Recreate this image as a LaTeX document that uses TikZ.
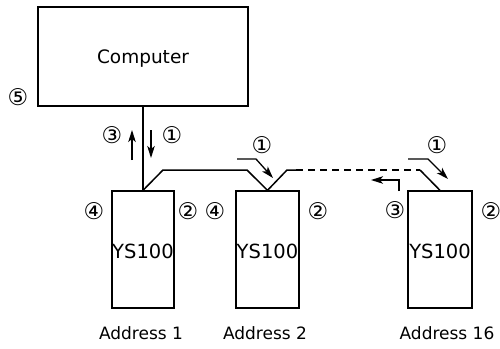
\documentclass[tikz,border=0pt]{standalone}
\usepackage{fontspec}
\setmainfont{DejaVu Sans}
\usetikzlibrary{arrows.meta}
\begin{document}
\begin{tikzpicture}[x=1pt,y=-1pt,
  box/.style={draw,line width=1.3pt,inner sep=0pt},
  bus/.style={line width=1.5pt},
  sig/.style={line width=1.3pt,-{Stealth[length=12pt,width=7.5pt,inset=3pt]}},
  cnum/.style={font=\fontsize{23}{23}\selectfont,inner sep=0pt},
  addr/.style={font=\fontsize{17}{17}\selectfont,anchor=base,inner sep=0pt},
  ystxt/.style={font=\fontsize{19.5}{20}\selectfont,anchor=base,inner sep=0pt}]
\useasboundingbox (0,0) rectangle (500,348);
% computer
\node[box,minimum width=210pt,minimum height=99pt] (comp) at (143,56.5) {};
\node[font=\fontsize{18.5}{19}\selectfont] (comptxt) at (143,59) {Computer};
% units
\node[box,minimum width=62pt,minimum height=117pt] (b1) at (143,249.5) {};
\node[box,minimum width=63pt,minimum height=117pt] (b2) at (267.5,249.5) {};
\node[box,minimum width=64pt,minimum height=117pt] (b16) at (440,249.5) {};
\node[ystxt] (y1) at (143,258) {YS100};
\node[ystxt] (y2) at (267.5,258) {YS100};
\node[ystxt] (y16) at (440,258) {YS100};
\node[addr] (a1) at (141,339) {Address 1};
\node[addr] (a2) at (265,339) {Address 2};
\node[addr] (a16) at (447,339) {Address 16};
% bus
\coordinate (p1) at (163,170);
\coordinate (p2) at (247,170);
\coordinate (p3) at (287,170);
\coordinate (p4) at (296,170);
\coordinate (p5) at (420,170);
\draw[line width=1.3pt] (comp.south) -- (b1.north);
\draw[bus] (b1.north) -- (p1) -- (p2) -- (b2.north) -- (p3) -- (p4);
\draw[bus,dashed,dash pattern=on 7pt off 5pt] (p4) -- (p5);
\draw[bus] (p5) -- (b16.north);
% signal arrows
\coordinate (u0) at (132,160); \coordinate (u1) at (132,130);
\coordinate (d0) at (151,130); \coordinate (d1) at (151,158);
\draw[sig] (u0) -- (u1);
\draw[sig] (d0) -- (d1);
\coordinate (s1) at (237,159); \coordinate (s2) at (256,159); \coordinate (s3) at (273,178);
\draw[sig] (s1) -- (s2) -- (s3);
\coordinate (t1) at (408,159); \coordinate (t2) at (428,159); \coordinate (t3) at (448,179);
\draw[sig] (t1) -- (t2) -- (t3);
\coordinate (r1) at (399,191); \coordinate (r2) at (399,180); \coordinate (r3) at (371,180);
\draw[sig] (r1) -- (r2) -- (r3);
% circled numbers
\node[cnum] (n5) at (18,97) {⑤};
\node[cnum] (n3a) at (112,135) {③};
\node[cnum] (n1a) at (172,135) {①};
\node[cnum] (n1b) at (262,145) {①};
\node[cnum] (n1c) at (437,145) {①};
\node[cnum] (n4a) at (94,211) {④};
\node[cnum] (n2a) at (188,211) {②};
\node[cnum] (n4b) at (215,211) {④};
\node[cnum] (n2b) at (318,211) {②};
\node[cnum] (n3b) at (395,210) {③};
\node[cnum] (n2c) at (491,211) {②};
\end{tikzpicture}
\end{document}
